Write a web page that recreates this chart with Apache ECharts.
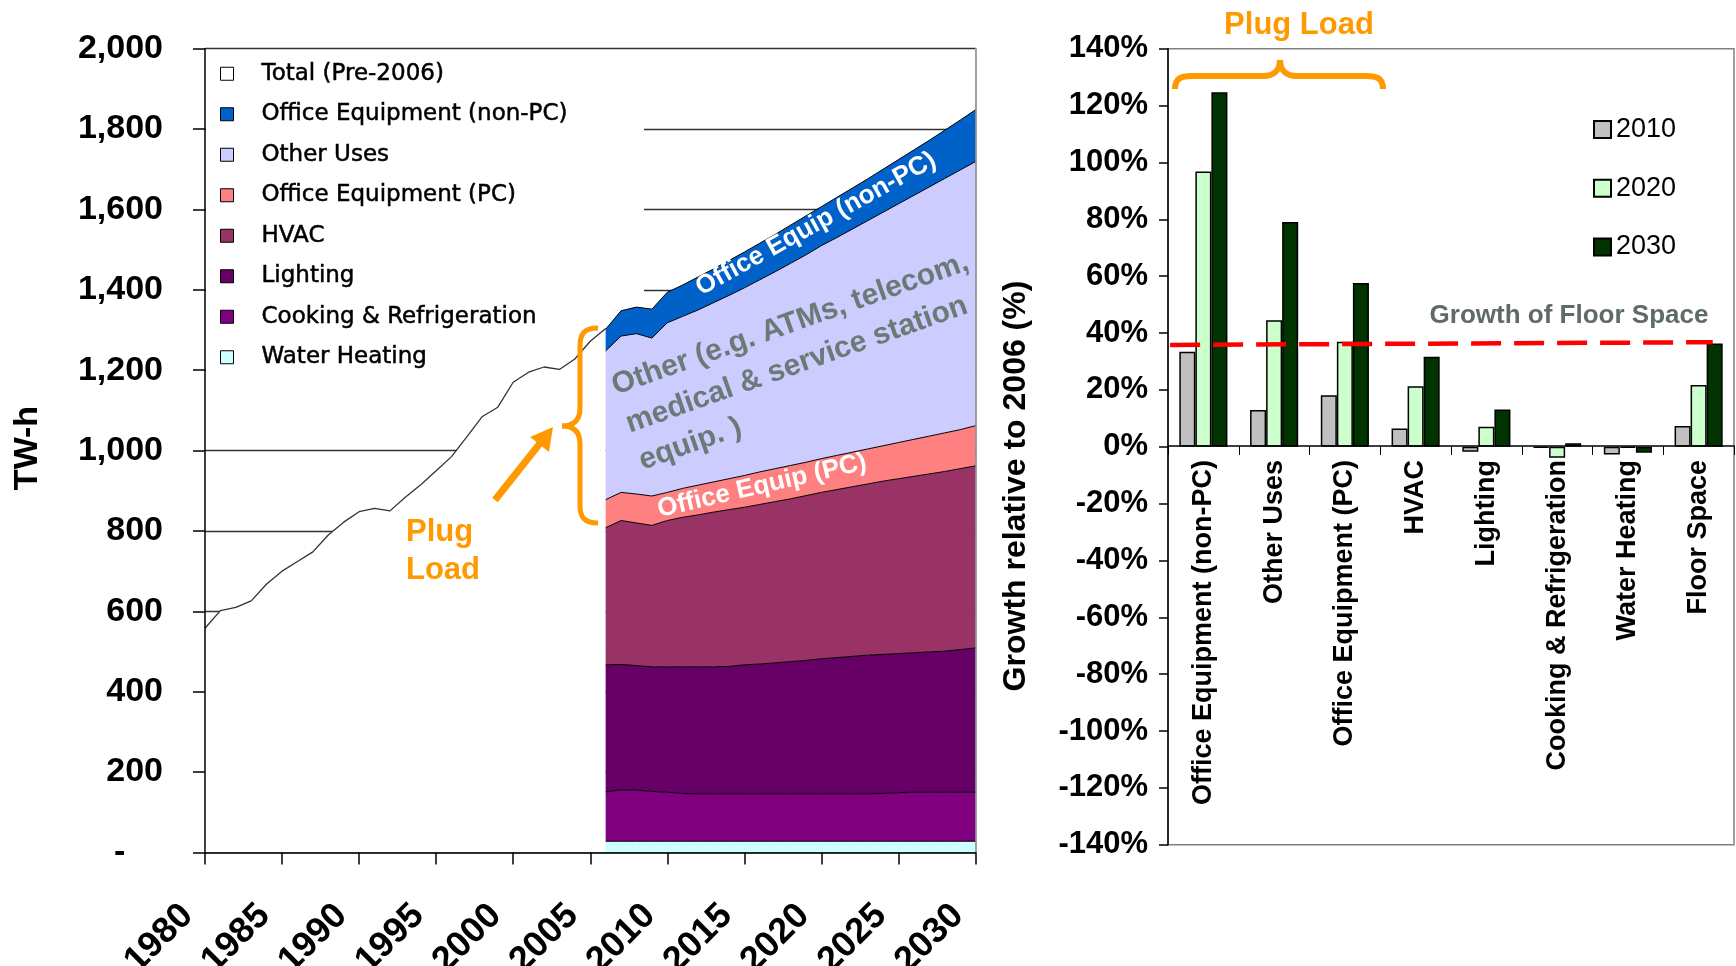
<!DOCTYPE html>
<html>
<head>
<meta charset="utf-8">
<script src="https://cdn.jsdelivr.net/npm/echarts@6/dist/echarts.min.js"></script>
<style>
    html, body { margin: 0; padding: 0; background: #fff; }
    #chart { width: 1736px; height: 966px; }
</style>
</head>
<body>
<div id="chart"></div>
<script>
// total consumption before the projection (TW-h)
const years_hist = [1980, 1981, 1982, 1983, 1984, 1985, 1986, 1987, 1988, 1989, 1990, 1991, 1992, 1993,
    1994, 1995, 1996, 1997, 1998, 1999, 2000, 2001, 2002, 2003, 2004, 2005, 2006];
const total_hist = [558, 602, 610, 626, 668, 700, 724, 748, 790, 822, 848, 856, 850, 884,
    915, 950, 985, 1035, 1085, 1108, 1170, 1195, 1208, 1202, 1228, 1272, 1304];

// projection by end use (TW-h, not cumulative)
const years_proj = [2006, 2007, 2008, 2009, 2010, 2011, 2012, 2013, 2014, 2015, 2016, 2017, 2018,
    2019, 2020, 2021, 2022, 2023, 2024, 2025, 2026, 2027, 2028, 2029, 2030];
const water_heating = [28, 28, 28, 28, 28, 28, 28, 28, 28, 28, 28, 28, 28,
    28, 28, 28, 28, 28, 28, 28, 28, 28, 28, 28, 28];
const cooking_refrig = [123, 128, 127, 124, 122, 119, 118, 118, 118, 118, 118, 118, 118,
    118, 118, 118, 118, 118, 119, 121, 122, 122, 122, 122, 122];
const lighting = [316, 312, 310, 310, 312, 315, 316, 316, 317, 321, 323, 326, 329,
    332, 336, 339, 342, 345, 346, 346, 347, 349, 351, 355, 359];
const hvac = [341, 358, 355, 352, 364, 372, 378, 385, 390, 392, 397, 401, 405,
    410, 414, 418, 422, 426, 431, 435, 439, 443, 447, 450, 453];
const office_pc = [70, 70, 72, 73, 70, 72, 74, 75, 77, 79, 81, 82, 83,
    83, 84, 85, 86, 87, 88, 90, 92, 94, 96, 97, 100];
const other_uses = [370, 389, 399, 393, 422, 428, 436, 446, 456, 467, 478, 490, 503,
    516, 530, 542, 555, 568, 581, 594, 607, 620, 633, 646, 657];
const office_non_pc = [54, 63, 66, 72, 76, 78, 82, 84, 87, 89, 91, 93, 95,
    97, 97, 100, 102, 104, 107, 110, 113, 116, 120, 124, 129];

// growth relative to 2006 (%)
const end_uses = ['Office Equipment (non-PC)', 'Other Uses', 'Office Equipment (PC)', 'HVAC',
    'Lighting', 'Cooking & Refrigeration', 'Water Heating', 'Floor Space'];
const growth_2010 = [33.4, 12.9, 18.1, 6.4, -1.8, -0.3, -2.7, 7.3];
const growth_2020 = [96.8, 44.5, 36.9, 21.3, 7.0, -3.9, -0.4, 21.7];
const growth_2030 = [124.7, 79.0, 57.6, 31.6, 13.1, 1.2, -2.1, 36.3];
const floor_line_x = [0.03, 7.7];
const floor_line_y = [35.8, 36.75];

// one category per year, 1980..2030
const years_all = years_hist.concat(years_proj.slice(1)).map(String);

let on_years = function (years, values) {
    return years_all.map(function (y) {
        let i = years.indexOf(Number(y));
        return i === -1 ? '-' : values[i];
    });
};

let stacked_area = function (name, values, color) {
    return {
        name: name,
        type: 'line',
        stack: 'use',
        xAxisIndex: 0,
        yAxisIndex: 0,
        data: on_years(years_proj, values),
        showSymbol: false,
        symbol: 'none',
        lineStyle: {color: '#000', width: 1},
        itemStyle: {color: color},
        areaStyle: {color: color, opacity: 1},
        z: 2
    };
};

let growth_bar = function (name, values, color) {
    return {
        name: name,
        type: 'bar',
        xAxisIndex: 1,
        yAxisIndex: 3,
        data: values,
        barGap: '0%',
        barCategoryGap: '32%',
        itemStyle: {color: color, borderColor: '#000', borderWidth: 1.5}
    };
};

const font = 'Liberation Sans';
const orange = '#ff9900';

// curly brace drawn as bezier pieces; each piece is [x1, y1, cpx1, cpy1, cpx2, cpy2, x2, y2]
let brace = function (pieces, width) {
    return pieces.map(function (p) {
        return {
            type: 'bezierCurve', z: 100,
            shape: {x1: p[0], y1: p[1], cpx1: p[2], cpy1: p[3], cpx2: p[4], cpy2: p[5], x2: p[6], y2: p[7]},
            style: {stroke: orange, lineWidth: width, fill: null}
        };
    });
};

let left_brace = brace([
    [598, 328, 584, 328, 580, 334, 580, 346],
    [580, 346, 580, 366, 580, 388, 580, 408],
    [580, 408, 580, 420, 574, 426, 562, 426],
    [562, 426, 574, 426, 580, 432, 580, 444],
    [580, 444, 580, 464, 580, 485, 580, 505],
    [580, 505, 580, 517, 584, 523, 598, 523]
], 5);

let right_brace = brace([
    [1175, 89, 1175, 79, 1180, 76, 1192, 76],
    [1192, 76, 1215, 76, 1240, 76, 1263, 76],
    [1263, 76, 1274, 76, 1280, 70, 1280, 60],
    [1280, 60, 1280, 70, 1286, 76, 1297, 76],
    [1297, 76, 1320, 76, 1343, 76, 1366, 76],
    [1366, 76, 1378, 76, 1383, 79, 1383, 89]
], 6);

let chart = echarts.init(document.getElementById('chart'));

let option = {
    animation: false,
    backgroundColor: '#fff',
    textStyle: {fontFamily: font},
    grid: [
        {left: 205, right: 760.5, top: 48.7, bottom: 113.5, show: false, outerBoundsMode: 'none'},
        {left: 1168, right: 2, top: 48.7, bottom: 121.3, show: true, borderColor: '#808080', borderWidth: 1.5,
            outerBoundsMode: 'none'},
        // upper half of the right plot, only carries the category axis at 0%
        {left: 1168, right: 2, top: 48.7, height: 397.3, show: false, outerBoundsMode: 'none'}
    ],
    legend: [
        {
            orient: 'vertical',
            left: 206,
            top: 50,
            padding: [12, 80, 12, 14],
            icon: 'rect',
            itemWidth: 13,
            itemHeight: 13,
            itemGap: 17,
            itemStyle: {borderColor: '#000', borderWidth: 1},
            textStyle: {fontFamily: 'DejaVu Sans', fontSize: 23, lineHeight: 23, color: '#000',
                textBorderColor: '#000', textBorderWidth: 0.5, padding: [0, 0, 0, 23]},
            data: ['Total (Pre-2006)', 'Office Equipment (non-PC)', 'Other Uses', 'Office Equipment (PC)',
                'HVAC', 'Lighting', 'Cooking & Refrigeration', 'Water Heating']
        },
        {
            orient: 'vertical',
            left: 1588,
            top: 111,
            icon: 'rect',
            itemWidth: 17,
            itemHeight: 17,
            itemGap: 31.7,
            textStyle: {fontFamily: font, fontSize: 27, lineHeight: 27, color: '#000'},
            data: ['2010', '2020', '2030']
        }
    ],
    xAxis: [
        {
            type: 'category',
            gridIndex: 0,
            data: years_all,
            boundaryGap: false,
            z: 10,
            axisLine: {show: true, lineStyle: {color: '#000', width: 1.5}},
            axisTick: {show: true, interval: 4, length: 12, lineStyle: {color: '#000', width: 1.5}},
            axisLabel: {
                interval: 4,
                rotate: 45,
                margin: 40,
                padding: [0, 25, 0, 0],
                fontSize: 36,
                fontWeight: 'bold',
                color: '#000'
            },
            splitLine: {show: false}
        },
        {
            type: 'category',
            gridIndex: 1,
            data: end_uses,
            show: false
        },
        {
            type: 'value',
            gridIndex: 1,
            min: 0,
            max: 8,
            show: false
        },
        {
            type: 'category',
            gridIndex: 2,
            data: end_uses,
            position: 'bottom',
            z: 10,
            axisLine: {show: true, lineStyle: {color: '#000', width: 1.5}},
            axisTick: {show: true, length: 9, lineStyle: {color: '#000', width: 1}},
            axisLabel: {
                rotate: 90,
                interval: 0,
                margin: 14,
                fontSize: 27,
                fontWeight: 'bold',
                color: '#000'
            }
        }
    ],
    yAxis: [
        {
            type: 'value',
            gridIndex: 0,
            min: 0,
            max: 2000,
            interval: 200,
            z: 10,
            axisLine: {show: true, lineStyle: {color: '#000', width: 1.5}},
            axisTick: {show: true, length: 12, lineStyle: {color: '#000', width: 1.5}},
            axisLabel: {
                margin: 42,
                fontSize: 34,
                fontWeight: 'bold',
                color: '#000',
                formatter: function (v) {
                    return v === 0 ? '-    ' : v.toLocaleString('en-US');
                }
            },
            splitLine: {show: false}
        },
        {
            type: 'value',
            gridIndex: 0,
            min: 0,
            max: 2000,
            interval: 200,
            z: 0,
            axisLine: {show: false},
            axisTick: {show: false},
            axisLabel: {show: false},
            splitLine: {show: true, lineStyle: {color: '#333', width: 1.3}}
        },
        {
            type: 'value',
            gridIndex: 0,
            position: 'right',
            min: 0,
            max: 2000,
            z: 10,
            axisLine: {show: true, lineStyle: {color: '#808080', width: 1.5}},
            axisTick: {show: false},
            axisLabel: {show: false},
            splitLine: {show: false}
        },
        {
            type: 'value',
            gridIndex: 1,
            min: -140,
            max: 140,
            interval: 20,
            z: 10,
            axisLine: {show: true, lineStyle: {color: '#000', width: 1.5}},
            axisTick: {show: true, length: 9, lineStyle: {color: '#000', width: 1.5}},
            axisLabel: {
                margin: 20,
                fontSize: 31,
                fontWeight: 'bold',
                color: '#000',
                formatter: '{value}%'
            },
            splitLine: {show: false}
        },
        {
            type: 'value',
            gridIndex: 2,
            min: 0,
            max: 1,
            show: false
        }
    ],
    series: [
        {
            name: 'Total (Pre-2006)',
            type: 'line',
            xAxisIndex: 0,
            yAxisIndex: 0,
            data: on_years(years_hist, total_hist),
            showSymbol: false,
            symbol: 'none',
            lineStyle: {color: '#333', width: 1.3},
            itemStyle: {color: '#fff'},
            areaStyle: {color: '#fff', opacity: 1},
            z: 2
        },
        stacked_area('Water Heating', water_heating, '#ccffff'),
        stacked_area('Cooking & Refrigeration', cooking_refrig, '#800080'),
        stacked_area('Lighting', lighting, '#660066'),
        stacked_area('HVAC', hvac, '#993366'),
        stacked_area('Office Equipment (PC)', office_pc, '#ff8080'),
        stacked_area('Other Uses', other_uses, '#ccccff'),
        stacked_area('Office Equipment (non-PC)', office_non_pc, '#0062c8'),
        growth_bar('2010', growth_2010, '#c0c0c0'),
        growth_bar('2020', growth_2020, '#ccffcc'),
        growth_bar('2030', growth_2030, '#003300'),
        {
            name: 'Growth of Floor Space',
            type: 'line',
            xAxisIndex: 2,
            yAxisIndex: 3,
            data: floor_line_x.map(function (x, i) {
                return [x, floor_line_y[i]];
            }),
            symbol: 'none',
            lineStyle: {color: '#ff0000', width: 4.5, type: [30, 13]},
            z: 5
        }
    ],
    graphic: [
        // white box behind the legend: hides the gridlines but stays under the series
        {
            type: 'rect', z: 1,
            shape: {x: 206, y: 50, width: 438, height: 328},
            style: {fill: '#fff'}
        },
        {
            type: 'text', x: 28, y: 448, rotation: Math.PI / 2, z: 100,
            style: {text: 'TW-h', fontFamily: font, fontSize: 34, fontWeight: 'bold', fill: '#000',
                align: 'center', verticalAlign: 'middle'}
        },
        {
            type: 'text', x: 1016, y: 486, rotation: Math.PI / 2, z: 100,
            style: {text: 'Growth relative to 2006 (%)', fontFamily: font, fontSize: 32, fontWeight: 'bold',
                fill: '#000', align: 'center', verticalAlign: 'middle'}
        },
        {
            type: 'text', x: 816, y: 224, rotation: 29 * Math.PI / 180, z: 100,
            style: {text: 'Office Equip (non-PC)', fontFamily: font, fontSize: 26, fontWeight: 'bold',
                fill: '#fff', align: 'center', verticalAlign: 'middle'}
        },
        {
            type: 'text', x: 762, y: 486, rotation: 13 * Math.PI / 180, z: 100,
            style: {text: 'Office Equip (PC)', fontFamily: font, fontSize: 26, fontWeight: 'bold',
                fill: '#fff', align: 'center', verticalAlign: 'middle'}
        },
        {
            type: 'text', x: 613, y: 387, rotation: 19.5 * Math.PI / 180, z: 100,
            style: {text: 'Other (e.g. ATMs, telecom,', fontFamily: font, fontSize: 30, fontWeight: 'bold',
                fill: '#6b7a75', align: 'left', verticalAlign: 'middle'}
        },
        {
            type: 'text', x: 627, y: 425, rotation: 19.5 * Math.PI / 180, z: 100,
            style: {text: 'medical & service station', fontFamily: font, fontSize: 30, fontWeight: 'bold',
                fill: '#6b7a75', align: 'left', verticalAlign: 'middle'}
        },
        {
            type: 'text', x: 640, y: 462, rotation: 19.5 * Math.PI / 180, z: 100,
            style: {text: 'equip. )', fontFamily: font, fontSize: 30, fontWeight: 'bold',
                fill: '#6b7a75', align: 'left', verticalAlign: 'middle'}
        },
        {
            type: 'text', x: 406, y: 532, z: 100,
            style: {text: 'Plug', fontFamily: font, fontSize: 31, fontWeight: 'bold', fill: orange,
                align: 'left', verticalAlign: 'middle'}
        },
        {
            type: 'text', x: 406, y: 570, z: 100,
            style: {text: 'Load', fontFamily: font, fontSize: 31, fontWeight: 'bold', fill: orange,
                align: 'left', verticalAlign: 'middle'}
        },
        {
            type: 'line', z: 100,
            shape: {x1: 495, y1: 500, x2: 541, y2: 442},
            style: {stroke: orange, lineWidth: 7}
        },
        {
            type: 'polygon', z: 100,
            shape: {points: [[553, 427], [549, 452], [530, 437]]},
            style: {fill: orange}
        },
        {
            type: 'text', x: 1299, y: 25, z: 100,
            style: {text: 'Plug Load', fontFamily: font, fontSize: 31, fontWeight: 'bold', fill: orange,
                align: 'center', verticalAlign: 'middle'}
        },
        {
            type: 'text', x: 1569, y: 316, z: 100,
            style: {text: 'Growth of Floor Space', fontFamily: font, fontSize: 26, fontWeight: 'bold',
                fill: '#5f6b69', align: 'center', verticalAlign: 'middle'}
        }
    ].concat(left_brace, right_brace)
};

chart.setOption(option);
</script>
</body>
</html>
